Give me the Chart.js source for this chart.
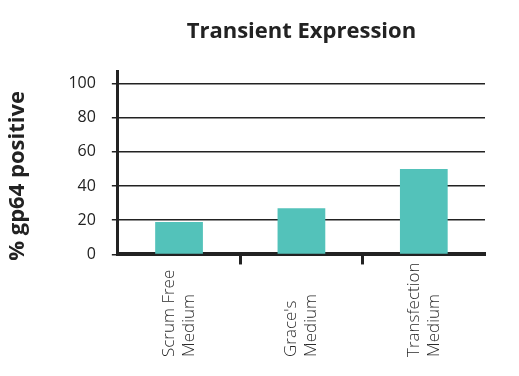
<!DOCTYPE html>
<html>
<head>
<meta charset="utf-8">
<script src="https://cdn.jsdelivr.net/npm/chart.js@4"></script>
<style>
  html, body { margin: 0; padding: 0; background: #fff; }
  #wrap { width: 519px; height: 376px; }
</style>
</head>
<body>
<div id="wrap"><canvas id="chartExpressao"></canvas></div>
<script>
// Dados
const categorias = [['Scrum Free', 'Medium'], ["Grace's", 'Medium'], ['Transfection', 'Medium']];
const valores = [19, 27, 50];
const ticksY = [0, 20, 40, 60, 80, 100];

const corBarra = '#53c2ba';
const corLinha = '#222222';
const fonte = "'Open Sans', 'Noto Sans', sans-serif";

Chart.defaults.maintainAspectRatio = false;
Chart.defaults.font.family = fonte;

// Rótulos do eixo X alinhados pela base (como no original) e título do eixo Y
const rotulosPlugin = {
    id: 'rotulos',
    afterDraw(chart) {
        const ctx = chart.ctx;
        const x = chart.scales.x;
        const area = chart.chartArea;
        ctx.save();
        ctx.fillStyle = '#2a2a2a';
        ctx.font = '300 17px ' + fonte;
        ctx.textAlign = 'left';
        ctx.textBaseline = 'middle';
        categorias.forEach((linhas, i) => {
            const px = x.getPixelForTick(i);
            linhas.forEach((txt, j) => {
                ctx.save();
                ctx.translate(px + (j - 0.5) * 20, x.bottom - 6);
                ctx.rotate(-Math.PI / 2);
                ctx.fillText(txt, 0, 0);
                ctx.restore();
            });
        });
        // título do eixo Y
        ctx.fillStyle = corLinha;
        ctx.font = 'bold 22px ' + fonte;
        ctx.textAlign = 'center';
        ctx.translate(18, (area.top + area.bottom) / 2 + 13);
        ctx.rotate(-Math.PI / 2);
        ctx.fillText('% gp64 positive', 0, 0);
        ctx.restore();
    }
};

new Chart(document.getElementById('chartExpressao'), {
    type: 'bar',
    data: {
        labels: categorias,
        datasets: [{
            data: valores,
            backgroundColor: corBarra,
            categoryPercentage: 0.78,
            barPercentage: 0.5
        }]
    },
    options: {
        animation: false,
        layout: { padding: { left: 4, right: 34, bottom: 13 } },
        plugins: {
            legend: { display: false },
            tooltip: { enabled: false },
            title: {
                display: true,
                text: 'Transient Expression',
                fullSize: false, // centraliza sobre a área do gráfico
                color: corLinha,
                font: { size: 22, weight: 'bold' },
                padding: { top: 19, bottom: 26 }
            }
        },
        scales: {
            y: {
                min: 0,
                max: 107,
                afterBuildTicks: (s) => { s.ticks = ticksY.map(v => ({ value: v })); },
                ticks: {
                    includeBounds: false,
                    color: corLinha,
                    font: { size: 16 },
                    padding: 16
                },
                grid: { color: corLinha, lineWidth: 1.5, tickLength: 6 },
                border: { color: corLinha, width: 3 },
                title: {
                    // só reserva o espaço; o texto é desenhado no plugin
                    display: true,
                    text: '% gp64 positive',
                    color: 'transparent',
                    font: { size: 22, weight: 'bold' },
                    padding: { top: 0, bottom: 22 }
                }
            },
            x: {
                ticks: {
                    color: 'transparent', // desenhados no plugin
                    font: { size: 17, weight: 300 },
                    maxRotation: 90,
                    minRotation: 90,
                    padding: 2
                },
                grid: {
                    drawOnChartArea: false,
                    tickLength: 10,
                    tickWidth: 3,
                    // só as marcas entre categorias
                    tickColor: (ctx) => (ctx.index === 1 || ctx.index === 2) ? corLinha : 'transparent',
                    color: 'transparent'
                },
                border: { color: corLinha, width: 4 }
            }
        }
    },
    plugins: [rotulosPlugin]
});
</script>
</body>
</html>
